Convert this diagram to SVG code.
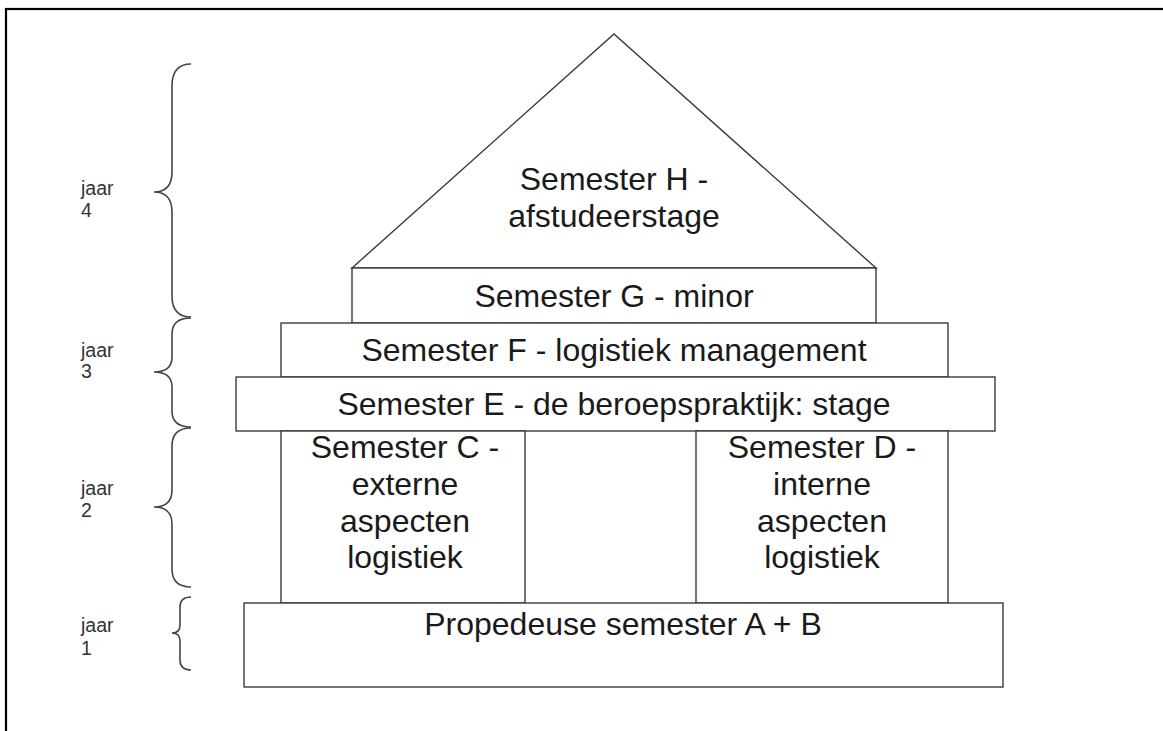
<svg xmlns="http://www.w3.org/2000/svg" width="1163" height="731" viewBox="0 0 1163 731">
  <style>
    .box { fill: #ffffff; stroke: #3a3a3a; stroke-width: 1.4; }
    .brace { fill: none; stroke: #444444; stroke-width: 1.6; }
    .t { font-family: "Liberation Sans", Arial, sans-serif; font-size: 32px; fill: #1a1a1a; text-anchor: middle; }
    .yr { font-family: "Liberation Sans", Arial, sans-serif; font-size: 19.5px; fill: #333333; }
  </style>
  <rect x="0" y="0" width="1163" height="731" fill="#ffffff"/>
  <rect id="frame" x="6" y="9" width="1170" height="740" fill="none" stroke="#000000" stroke-width="2.2"/>

  <g id="semH">
    <polygon class="box" points="352,268 614,34 876,268"/>
    <text class="t" x="614" y="190">Semester H -</text>
    <text class="t" x="614" y="227">afstudeerstage</text>
  </g>
  <g id="semG">
    <rect class="box" x="352" y="268" width="524" height="55"/>
    <text class="t" x="614" y="307">Semester G - minor</text>
  </g>
  <g id="semF">
    <rect class="box" x="281" y="323" width="667" height="54"/>
    <text class="t" x="614" y="361">Semester F - logistiek management</text>
  </g>
  <g id="semE">
    <rect class="box" x="236" y="377" width="759" height="54"/>
    <text class="t" x="614" y="415">Semester E - de beroepspraktijk: stage</text>
  </g>
  <g id="semC">
    <rect class="box" x="281" y="431" width="244" height="172"/>
    <text class="t" x="405" y="458">Semester C -</text>
    <text class="t" x="405" y="495">externe</text>
    <text class="t" x="405" y="532">aspecten</text>
    <text class="t" x="405" y="568">logistiek</text>
  </g>
  <g id="semD">
    <rect class="box" x="696" y="431" width="252" height="172"/>
    <text class="t" x="822" y="458">Semester D -</text>
    <text class="t" x="822" y="495">interne</text>
    <text class="t" x="822" y="532">aspecten</text>
    <text class="t" x="822" y="568">logistiek</text>
  </g>
  <g id="semAB">
    <rect class="box" x="244" y="603" width="759" height="84"/>
    <text class="t" x="623" y="635">Propedeuse semester A + B</text>
  </g>

  <g id="braces">
    <path class="brace" d="M191,64 Q172,64 172,86 L172,172 Q172,192 154,192 Q172,192 172,212 L172,296 Q172,317 191,317"/>
    <path class="brace" d="M191,318 Q172,318 172,334 L172,357 Q172,372 154,372 Q172,372 172,387 L172,411 Q172,427 191,427"/>
    <path class="brace" d="M191,428 Q172,428 172,446 L172,490 Q172,507 154,507 Q172,507 172,524 L172,569 Q172,587 191,587"/>
    <path class="brace" d="M191,597 Q180,597 180,607 L180,625 Q180,633 172,633 Q180,633 180,641 L180,660 Q180,670 191,670"/>
  </g>

  <g id="year4"><text class="yr" x="81" y="195">jaar</text><text class="yr" x="81" y="217">4</text></g>
  <g id="year3"><text class="yr" x="81" y="357">jaar</text><text class="yr" x="81" y="378">3</text></g>
  <g id="year2"><text class="yr" x="81" y="495">jaar</text><text class="yr" x="81" y="517">2</text></g>
  <g id="year1"><text class="yr" x="81" y="632">jaar</text><text class="yr" x="81" y="655">1</text></g>
</svg>
